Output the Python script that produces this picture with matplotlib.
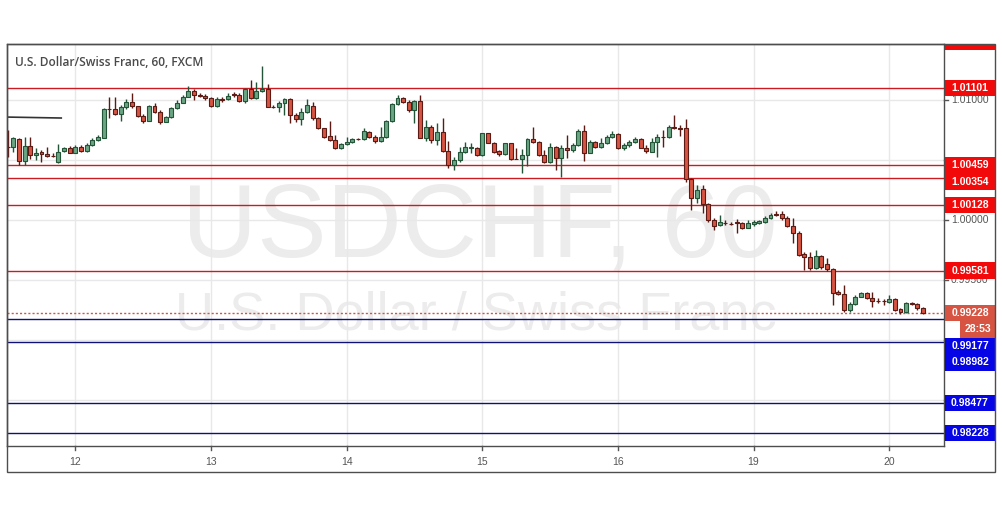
import matplotlib
matplotlib.use("Agg")
import matplotlib.pyplot as plt
from matplotlib.patches import Rectangle
from matplotlib.lines import Line2D
import numpy as np

plt.rcParams['font.family'] = ['Liberation Sans', 'DejaVu Sans']

# ---------------- data ----------------
title = "U.S. Dollar/Swiss Franc, 60, FXCM"
watermark_symbol = "USDCHF, 60"
watermark_name = "U.S. Dollar / Swiss Franc"

day_labels = ["12", "13", "14", "15", "16", "19", "20"]
day_tick_index = [12, 36, 60, 84, 108, 132, 156]

opens = [1.00612, 1.00612, 1.00676, 1.00493, 1.00621, 1.00543, 1.00566, 1.00551, 1.00535, 1.00482,
         1.00576, 1.00604, 1.00560, 1.00610, 1.00576, 1.00626, 1.00668, 1.00687, 1.00926, 1.00926,
         1.00882, 1.00940, 1.00982, 1.00949, 1.00870, 1.00829, 1.00949, 1.00904, 1.00821, 1.00857,
         1.00932, 1.00979, 1.01029, 1.01079, 1.01045, 1.01034, 1.01015, 1.00951, 1.01007, 1.01007,
         1.01051, 1.01045, 1.00990, 1.01090, 1.01015, 1.01074, 1.01095, 1.00945, 1.00945, 1.00974,
         1.01007, 1.00876, 1.00840, 1.00904, 1.00954, 1.00849, 1.00765, 1.00701, 1.00665, 1.00599,
         1.00632, 1.00649, 1.00676, 1.00676, 1.00737, 1.00696, 1.00660, 1.00693, 1.00826, 1.00965,
         1.01015, 1.00982, 1.00918, 1.00993, 1.00687, 1.00779, 1.00668, 1.00737, 1.00576, 1.00460,
         1.00501, 1.00571, 1.00599, 1.00599, 1.00543, 1.00724, 1.00646, 1.00579, 1.00549, 1.00640,
         1.00510, 1.00510, 1.00543, 1.00674, 1.00649, 1.00543, 1.00487, 1.00607, 1.00515, 1.00599,
         1.00585, 1.00626, 1.00746, 1.00562, 1.00654, 1.00607, 1.00640, 1.00696, 1.00716, 1.00599,
         1.00626, 1.00649, 1.00676, 1.00604, 1.00571, 1.00649, 1.00696, 1.00696, 1.00779, 1.00770,
         1.00770, 1.00343, 1.00187, 1.00260, 1.00132, 1.00002, 0.99960, 0.99977, 0.99970, 0.99985,
         0.99977, 0.99938, 0.99968, 0.99977, 0.99985, 1.00018, 1.00054, 1.00054, 1.00018, 0.99948,
         0.99893, 0.99719, 0.99696, 0.99599, 0.99702, 0.99635, 0.99591, 0.99404, 0.99385, 0.99252,
         0.99302, 0.99363, 0.99396, 0.99349, 0.99329, 0.99327, 0.99321, 0.99341, 0.99258, 0.99238,
         0.99313, 0.99302, 0.99266]
highs = [1.00751, 1.00696, 1.00685, 1.00696, 1.00696, 1.00599, 1.00585, 1.00612, 1.00557, 1.00632,
         1.00612, 1.00618, 1.00626, 1.00626, 1.00640, 1.00682, 1.00710, 1.00932, 1.01028, 1.01028,
         1.00959, 1.01009, 1.01057, 1.00954, 1.00884, 1.00959, 1.00974, 1.00918, 1.00868, 1.00945,
         1.01001, 1.01043, 1.01118, 1.01090, 1.01057, 1.01051, 1.01024, 1.01024, 1.01024, 1.01062,
         1.01068, 1.01057, 1.01099, 1.01168, 1.01154, 1.01284, 1.01134, 1.00959, 1.00995, 1.01015,
         1.01015, 1.00890, 1.00932, 1.01007, 1.00987, 1.00862, 1.00770, 1.00826, 1.00710, 1.00640,
         1.00696, 1.00687, 1.00687, 1.00765, 1.00743, 1.00710, 1.00779, 1.00835, 1.00974, 1.01043,
         1.01029, 1.01001, 1.01001, 1.01043, 1.00835, 1.00793, 1.00807, 1.00849, 1.00660, 1.00529,
         1.00612, 1.00654, 1.00646, 1.00612, 1.00729, 1.00729, 1.00654, 1.00585, 1.00646, 1.00646,
         1.00599, 1.00590, 1.00682, 1.00779, 1.00662, 1.00585, 1.00640, 1.00618, 1.00626, 1.00710,
         1.00640, 1.00757, 1.00793, 1.00668, 1.00662, 1.00682, 1.00710, 1.00746, 1.00724, 1.00640,
         1.00668, 1.00696, 1.00687, 1.00626, 1.00687, 1.00716, 1.00751, 1.00793, 1.00876, 1.00793,
         1.00843, 1.00354, 1.00293, 1.00293, 1.00140, 1.00016, 1.00043, 1.00002, 0.99988, 1.00010,
         0.99988, 1.00002, 1.00002, 1.00002, 1.00032, 1.00060, 1.00074, 1.00074, 1.00032, 1.00016,
         0.99906, 0.99738, 0.99738, 0.99752, 0.99710, 0.99683, 0.99599, 0.99418, 0.99460, 0.99321,
         0.99377, 0.99404, 0.99404, 0.99404, 0.99349, 0.99341, 0.99377, 0.99349, 0.99266, 0.99321,
         0.99321, 0.99313, 0.99280]
lows = [1.00527, 1.00571, 1.00460, 1.00460, 1.00510, 1.00501, 1.00487, 1.00529, 1.00527, 1.00480,
        1.00571, 1.00557, 1.00557, 1.00571, 1.00571, 1.00621, 1.00662, 1.00682, 1.00849, 1.00876,
        1.00826, 1.00926, 1.00932, 1.00862, 1.00810, 1.00826, 1.00893, 1.00801, 1.00815, 1.00849,
        1.00924, 1.00974, 1.01024, 1.01001, 1.01029, 1.01001, 1.00945, 1.00945, 1.00987, 1.01001,
        1.01029, 1.00987, 1.00974, 1.01007, 1.01007, 1.01070, 1.00940, 1.00932, 1.00904, 1.00876,
        1.00807, 1.00821, 1.00793, 1.00890, 1.00835, 1.00760, 1.00687, 1.00660, 1.00593, 1.00593,
        1.00626, 1.00640, 1.00668, 1.00668, 1.00682, 1.00640, 1.00654, 1.00682, 1.00821, 1.00959,
        1.00974, 1.00904, 1.00807, 1.00682, 1.00660, 1.00640, 1.00626, 1.00571, 1.00432, 1.00418,
        1.00487, 1.00557, 1.00557, 1.00535, 1.00535, 1.00640, 1.00562, 1.00535, 1.00543, 1.00501,
        1.00507, 1.00396, 1.00451, 1.00646, 1.00535, 1.00479, 1.00474, 1.00418, 1.00362, 1.00515,
        1.00571, 1.00618, 1.00496, 1.00557, 1.00599, 1.00599, 1.00635, 1.00682, 1.00593, 1.00585,
        1.00612, 1.00640, 1.00599, 1.00557, 1.00566, 1.00529, 1.00612, 1.00687, 1.00760, 1.00704,
        1.00321, 1.00085, 1.00140, 1.00057, 0.99988, 0.99918, 0.99954, 0.99960, 0.99960, 0.99891,
        0.99927, 0.99933, 0.99954, 0.99968, 0.99977, 1.00012, 1.00037, 1.00002, 0.99943, 0.99814,
        0.99702, 0.99585, 0.99585, 0.99591, 0.99591, 0.99579, 0.99294, 0.99377, 0.99238, 0.99238,
        0.99294, 0.99358, 0.99341, 0.99280, 0.99308, 0.99294, 0.99308, 0.99246, 0.99219, 0.99230,
        0.99294, 0.99252, 0.99220]
closes = [1.00610, 1.00682, 1.00493, 1.00621, 1.00543, 1.00562, 1.00549, 1.00535, 1.00533, 1.00571,
          1.00599, 1.00560, 1.00610, 1.00576, 1.00626, 1.00668, 1.00696, 1.00926, 1.00924, 1.00882,
          1.00940, 1.00982, 1.00949, 1.00870, 1.00829, 1.00954, 1.00899, 1.00821, 1.00857, 1.00932,
          1.00979, 1.01029, 1.01079, 1.01040, 1.01034, 1.01015, 1.00951, 1.01007, 1.01005, 1.01034,
          1.01040, 1.00990, 1.01090, 1.01015, 1.01079, 1.01095, 1.00945, 1.00943, 1.00974, 1.01007,
          1.00876, 1.00840, 1.00904, 1.00959, 1.00849, 1.00765, 1.00696, 1.00665, 1.00599, 1.00632,
          1.00654, 1.00676, 1.00674, 1.00743, 1.00696, 1.00660, 1.00693, 1.00826, 1.00965, 1.01015,
          1.00982, 1.00918, 1.00993, 1.00687, 1.00779, 1.00668, 1.00737, 1.00576, 1.00460, 1.00501,
          1.00571, 1.00612, 1.00607, 1.00543, 1.00724, 1.00646, 1.00571, 1.00549, 1.00640, 1.00510,
          1.00508, 1.00543, 1.00674, 1.00649, 1.00543, 1.00487, 1.00607, 1.00515, 1.00599, 1.00585,
          1.00626, 1.00746, 1.00562, 1.00654, 1.00607, 1.00640, 1.00696, 1.00718, 1.00599, 1.00626,
          1.00649, 1.00676, 1.00604, 1.00576, 1.00649, 1.00696, 1.00694, 1.00779, 1.00765, 1.00760,
          1.00343, 1.00187, 1.00252, 1.00132, 1.00002, 0.99954, 0.99983, 0.99975, 0.99968, 0.99974,
          0.99938, 0.99977, 0.99985, 0.99990, 1.00018, 1.00045, 1.00045, 1.00018, 0.99948, 0.99893,
          0.99712, 0.99691, 0.99599, 0.99702, 0.99608, 0.99591, 0.99396, 0.99385, 0.99252, 0.99302,
          0.99363, 0.99396, 0.99349, 0.99329, 0.99327, 0.99325, 0.99341, 0.99252, 0.99238, 0.99313,
          0.99302, 0.99266, 0.99228]

resistance_levels = [1.01101, 1.00459, 1.00354, 1.00128, 0.99581]
support_levels = [0.99177, 0.98982, 0.98477, 0.98228]
last_price = 0.99228
countdown = "28:53"
price_ticks = [0.985, 0.990, 0.995, 1.000, 1.005, 1.010]
trend_x = [-0.2, 9.5]
trend_y = [1.00859, 1.00851]

# ---------------- style ----------------
W, H = 1002, 508
up_fill, up_edge = "#6ba583", "#225437"
dn_fill, dn_edge = "#d75442", "#5b1a13"
res_line, sup_line = "#cc1a22", "#10107a"
res_box, sup_box, last_box = "#f20a0a", "#0505e6", "#d75442"
frame_col = "#4d4d4d"
text_col = "#555555"

fig = plt.figure(figsize=(W / 100, H / 100), dpi=100)
fig.patch.set_facecolor("white")
ax = fig.add_axes([6.5 / W, (H - 446) / H, (944 - 6.5) / W, (446 - 44) / H])
ax.set_xlim(-0.19, 165.7)
ax.set_ylim(0.981197, 1.014674)

for sp in ax.spines.values():
    sp.set_color(frame_col)
    sp.set_linewidth(1)
ax.set_xticks(day_tick_index)
ax.set_yticks(price_ticks)
ax.tick_params(labelleft=False, labelbottom=False, left=False, bottom=False)
ax.grid(True, color="#e8e8e8", lw=1, zorder=0)
ax.set_axisbelow(True)

# watermarks
ax.text(0.505, 0.471, watermark_symbol, transform=ax.transAxes, ha="center", va="baseline",
        fontsize=75, color="#ececec", zorder=0.5)
ax.text(0.501, 0.289, watermark_name, transform=ax.transAxes, ha="center", va="baseline",
        fontsize=39, color="#ececec", zorder=0.5)

# horizontal levels
for lv in resistance_levels:
    ax.axhline(lv, color=res_line, lw=1, zorder=2)
for lv in support_levels:
    ax.axhline(lv, color=sup_line, lw=1, zorder=2)
ax.axhline(last_price, color=last_box, lw=1, ls=(0, (1.5, 1.5)), zorder=2)

# trend line
ax.plot(trend_x, trend_y, color="#333333", lw=1.2, zorder=2)

# candles
o = np.array(opens); h = np.array(highs); l = np.array(lows); c = np.array(closes)
idx = np.arange(len(o))
up = c >= o
ax.vlines(idx[up], l[up], h[up], color=up_edge, lw=1, zorder=3)
ax.vlines(idx[~up], l[~up], h[~up], color=dn_edge, lw=1, zorder=3)
body = np.maximum(np.abs(c - o), 0.00002)
ax.bar(idx, body, bottom=np.minimum(o, c), width=0.7,
       color=np.where(up, up_fill, dn_fill), edgecolor=np.where(up, up_edge, dn_edge),
       linewidth=0.8, zorder=4)

# ---------------- axis texts ----------------
def ydisp(p):
    return ax.transData.transform((0, p))[1]

def xdisp(i):
    return ax.transData.transform((i, 0))[0]

# price labels with simple collision avoidance
items = []
for lv in resistance_levels:
    items.append((ydisp(lv), f"{lv:.5f}", res_box, "full"))
items.append((ydisp(last_price), f"{last_price:.5f}", last_box, "full"))
items.append((ydisp(last_price) - 0.1, countdown, last_box, "short"))
for lv in support_levels:
    items.append((ydisp(lv), f"{lv:.5f}", sup_box, "full"))
items.sort(key=lambda t: -t[0])
box_h = 16.5
prev = None
placed = []
for y0, txt, col, kind in items:
    yc = y0 if prev is None else min(y0, prev - box_h)
    prev = yc
    placed.append(yc)
    x0 = 945 if kind == "full" else 960
    fig.add_artist(Rectangle((x0 / W, (yc - box_h / 2) / H), (995 - x0) / W, box_h / H,
                             transform=fig.transFigure, facecolor=col, edgecolor="none", zorder=6))
    xc = 970 if kind == "full" else 977.5
    fig.text(xc / W, yc / H, txt, ha="center", va="center", fontsize=7.5, fontweight="bold",
             color="white", zorder=7)

# right price tick labels (those hidden behind a level label are not drawn)
for p in price_ticks:
    yd = ydisp(p)
    fig.add_artist(Line2D([944 / W, 948 / W], [yd / H, yd / H], color=text_col, lw=1, zorder=5))
    if min(abs(yd - yc) for yc in placed) < 9:
        continue
    fig.text(951 / W, yd / H, f"{p:.5f}", ha="left", va="center", fontsize=7.5,
             color=text_col, zorder=5)

# bottom day labels
for i, lab in zip(day_tick_index, day_labels):
    xd = xdisp(i)
    fig.add_artist(Line2D([xd / W, xd / W], [(H - 446) / H, (H - 450) / H], color=text_col, lw=1, zorder=5))
    fig.text(xd / W, (H - 462) / H, lab, ha="center", va="center", fontsize=7.5, color=text_col, zorder=5)

# off-screen level label clipped at the top of the price scale
fig.add_artist(Rectangle((945 / W, (H - 49.5) / H), 50 / W, 6 / H, transform=fig.transFigure,
                         facecolor=res_box, edgecolor="none", zorder=6))

# outer frame
fig.add_artist(Rectangle((6.5 / W, (H - 472) / H), (995 - 6.5) / W, (472 - 44) / H,
                         transform=fig.transFigure, facecolor="none", edgecolor=frame_col,
                         lw=1, zorder=8))

# title
fig.text(15 / W, (H - 62) / H, title, ha="left", va="center", fontsize=8.6,
         family=["Open Sans", "DejaVu Sans"], fontweight="semibold", color="#4a4a4a", zorder=7)

fig.savefig("out.png", dpi=100, facecolor="white")
